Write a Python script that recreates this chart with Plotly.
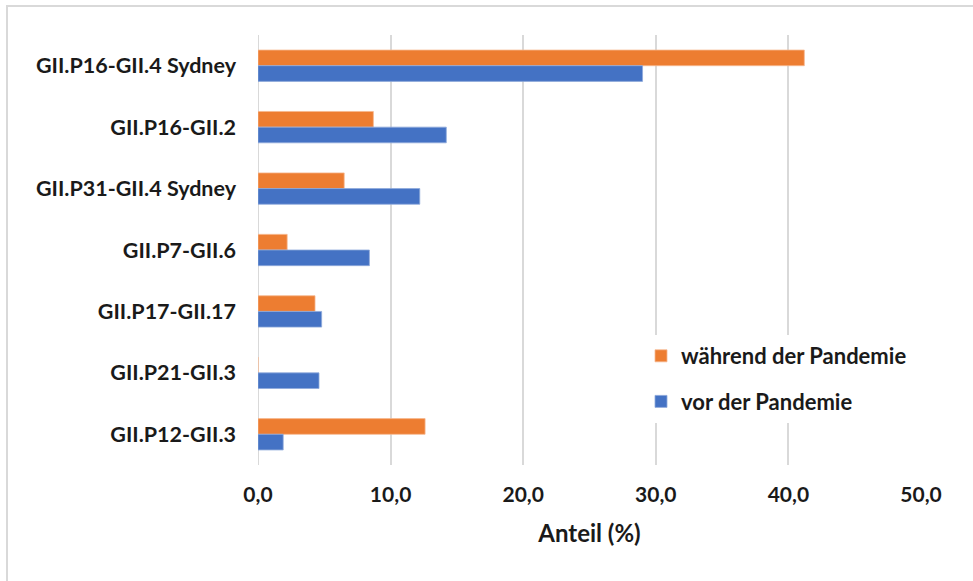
import plotly.graph_objects as go

# Norovirus genotypes, top to bottom
genotypes = [
    "GII.P16-GII.4 Sydney",
    "GII.P16-GII.2",
    "GII.P31-GII.4 Sydney",
    "GII.P7-GII.6",
    "GII.P17-GII.17",
    "GII.P21-GII.3",
    "GII.P12-GII.3",
]
waehrend = [41.2, 8.7, 6.5, 2.2, 4.3, 0.0, 12.6]
vor = [29.0, 14.2, 12.2, 8.4, 4.8, 4.6, 1.9]

x_ticks = [0, 10, 20, 30, 40, 50]
x_ticktext = ["0,0", "10,0", "20,0", "30,0", "40,0", "50,0"]

FONT = "Lato"
ORANGE = "#ED7D31"
BLUE = "#4472C4"
GRID = "#d9d9d9"
TXT = "#1a1a1a"

W, H = 973, 581
ml, mr, mt, mb = 258, 52, 35, 116
pw, ph = W - ml - mr, H - mt - mb


def px_x(p):
    return (p - ml) / pw


def px_y(p):
    return (H - mb - p) / ph


fig = go.Figure()
fig.add_trace(go.Bar(
    y=genotypes, x=waehrend, orientation="h", name="während der Pandemie",
    marker=dict(color=ORANGE, line=dict(color="#f6b88f", width=0.8)),
    legendgroup="a",
))
fig.add_trace(go.Bar(
    y=genotypes, x=vor, orientation="h", name="vor der Pandemie",
    marker=dict(color=BLUE, line=dict(color="#8eaadb", width=0.8)),
    legendgroup="b",
))

fig.update_layout(
    width=W, height=H,
    margin=dict(l=ml, r=mr, t=mt, b=mb),
    paper_bgcolor="white", plot_bgcolor="white",
    barmode="group", bargap=0.49, bargroupgap=0,
    font=dict(family=FONT, size=21, color=TXT),
    showlegend=True,
    legend=dict(
        x=px_x(641), y=px_y(335), xanchor="left", yanchor="top",
        bgcolor="white", traceorder="grouped", tracegroupgap=14,
        font=dict(family=FONT, size=22, color=TXT, weight="bold"),
    ),
    xaxis=dict(
        range=[0, 50], tickvals=x_ticks, ticktext=x_ticktext,
        showgrid=True, gridcolor=GRID, gridwidth=2,
        zeroline=False, showline=False, ticks="",
        ticklabelstandoff=15,
        tickfont=dict(family=FONT, size=21, color=TXT, weight="bold"),
        title=dict(text="Anteil (%)", standoff=20,
                   font=dict(family=FONT, size=24, color=TXT, weight="bold")),
        fixedrange=True,
    ),
    yaxis=dict(
        autorange="reversed", showgrid=False, zeroline=False, showline=False,
        ticks="", ticklabelstandoff=21,
        tickfont=dict(family=FONT, size=21.5, color=TXT, weight="bold"),
        fixedrange=True,
    ),
    shapes=[
        # zero line drawn like the other gridlines
        dict(type="line", xref="x", yref="paper", x0=0, x1=0, y0=0, y1=1,
             line=dict(color=GRID, width=2), layer="below"),
        # chart area border
        dict(type="rect", xref="paper", yref="paper",
             x0=px_x(7), x1=px_x(990), y0=px_y(600), y1=px_y(6),
             line=dict(color=GRID, width=2), layer="below"),
    ],
)

fig.write_html("out.html")
